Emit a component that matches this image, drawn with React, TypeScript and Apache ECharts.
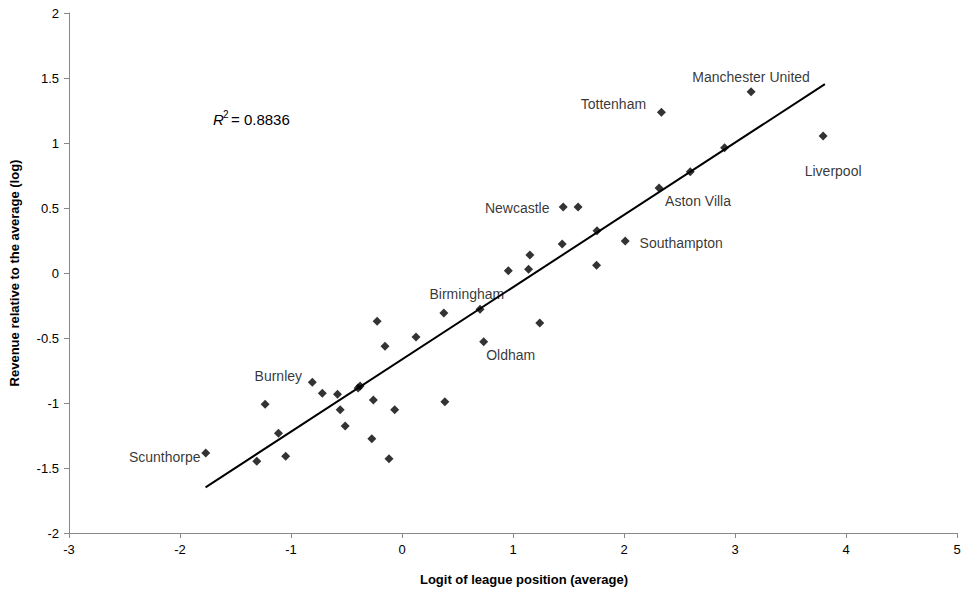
import React, { useEffect, useRef } from "react";
import * as echarts from "echarts";

const xValues = [
  -1.768, -1.308, -1.233, -1.113, -1.048, -0.808, -0.718, -0.581, -0.557, -0.512,
  -0.395, -0.377, -0.258, -0.272, -0.224, -0.153, -0.117, -0.066, 0.126, 0.377,
  0.386, 0.703, 0.736, 1.241, 0.958, 1.152, 1.14, 1.443, 1.452, 1.586,
  1.757, 1.753, 2.011, 2.316, 2.597, 2.906, 2.337, 3.145, 3.794,
];
const yValues = [
  -1.385, -1.448, -1.01, -1.233, -1.41, -0.841, -0.925, -0.933, -1.052, -1.177,
  -0.885, -0.87, -0.977, -1.275, -0.372, -0.564, -1.428, -1.052, -0.492, -0.308,
  -0.99, -0.279, -0.528, -0.385, 0.018, 0.138, 0.028, 0.223, 0.508, 0.508,
  0.325, 0.059, 0.246, 0.654, 0.779, 0.964, 1.236, 1.395, 1.054,
];
const teamNames = [
  "Scunthorpe", "", "", "", "", "Burnley", "", "", "", "",
  "", "", "", "", "", "", "", "", "", "Birmingham",
  "", "", "Oldham", "", "", "", "", "", "Newcastle", "",
  "", "", "Southampton", "Aston Villa", "", "", "Tottenham", "Manchester United", "Liverpool",
];
const trendX = [-1.77, 3.81];
const trendY = [-1.649, 1.453];
const xTicks = { min: -3, max: 5, interval: 1 };
const yTicks = { min: -2, max: 2, interval: 0.5 };
const rSquared = "0.8836";

const labelOffsets: Record<string, [number, number]> = {
  Scunthorpe: [-41, 4],
  Burnley: [-34, -6],
  Birmingham: [23, -19],
  Oldham: [27, 13],
  Newcastle: [-46, 1],
  Southampton: [56, 2],
  "Aston Villa": [39, 13],
  Tottenham: [-48, -8],
  "Manchester United": [0, -15],
  Liverpool: [10, 35],
};

const FONT = "'Liberation Sans', Arial, sans-serif";

export default function App() {
  const ref = useRef<HTMLDivElement>(null);
  useEffect(() => {
    if (!ref.current) return;
    const chart = echarts.init(ref.current, undefined, { renderer: "svg" });
    const points = xValues.map((x, i) => {
      const name = teamNames[i];
      const item: any = { value: [x, yValues[i]], name };
      if (name) {
        item.label = {
          show: true,
          formatter: name,
          position: "inside",
          offset: labelOffsets[name] || [0, 0],
          align: "center",
          verticalAlign: "middle",
          color: "#000",
          fontSize: 14,
          fontFamily: FONT,
        };
      }
      return item;
    });
    chart.setOption({
      animation: false,
      backgroundColor: "#fff",
      textStyle: { fontFamily: FONT },
      grid: { left: 66, right: 8, top: 13, bottom: 60, containLabel: false },
      xAxis: {
        type: "value",
        min: xTicks.min,
        max: xTicks.max,
        interval: xTicks.interval,
        name: "Logit of league position (average)",
        nameLocation: "middle",
        nameGap: 40,
        nameTextStyle: { fontWeight: "bold", fontSize: 13, color: "#000", fontFamily: FONT, padding: [0, 0, 0, 22] },
        axisLine: { show: true, onZero: false, lineStyle: { color: "#888", width: 1 } },
        axisTick: { show: true, length: 5, lineStyle: { color: "#888" } },
        axisLabel: { color: "#000", fontSize: 13, margin: 10, fontFamily: FONT },
        splitLine: { show: false },
      },
      yAxis: {
        type: "value",
        min: yTicks.min,
        max: yTicks.max,
        interval: yTicks.interval,
        name: "Revenue relative to the average (log)",
        nameLocation: "middle",
        nameGap: 48,
        nameTextStyle: { fontWeight: "bold", fontSize: 13, color: "#000", fontFamily: FONT },
        axisLine: { show: true, onZero: false, lineStyle: { color: "#888", width: 1 } },
        axisTick: { show: true, length: 5, lineStyle: { color: "#888" } },
        axisLabel: { color: "#000", fontSize: 13, margin: 10, fontFamily: FONT },
        splitLine: { show: false },
      },
      series: [
        {
          type: "line",
          data: trendX.map((x, i) => [x, trendY[i]]),
          showSymbol: false,
          symbol: "none",
          lineStyle: { color: "#000", width: 2 },
          z: 1,
        },
        {
          type: "scatter",
          data: points,
          symbol: "diamond",
          symbolSize: 9,
          itemStyle: { color: "#000" },
          z: 2,
        },
      ],
      graphic: [
        {
          type: "text",
          left: 213,
          top: 112,
          style: { text: "R", fontSize: 15, fontStyle: "italic", fill: "#000", fontFamily: FONT },
        },
        {
          type: "text",
          left: 223,
          top: 109,
          style: { text: "2", fontSize: 10, fill: "#000", fontFamily: FONT },
        },
        {
          type: "text",
          left: 231,
          top: 112,
          style: { text: "= " + rSquared, fontSize: 15, fill: "#000", fontFamily: FONT },
        },
      ],
    });
    return () => chart.dispose();
  }, []);
  return (
    <div
      ref={ref}
      style={{ position: "fixed", left: 0, top: 0, width: 965, height: 593 }}
    />
  );
}
